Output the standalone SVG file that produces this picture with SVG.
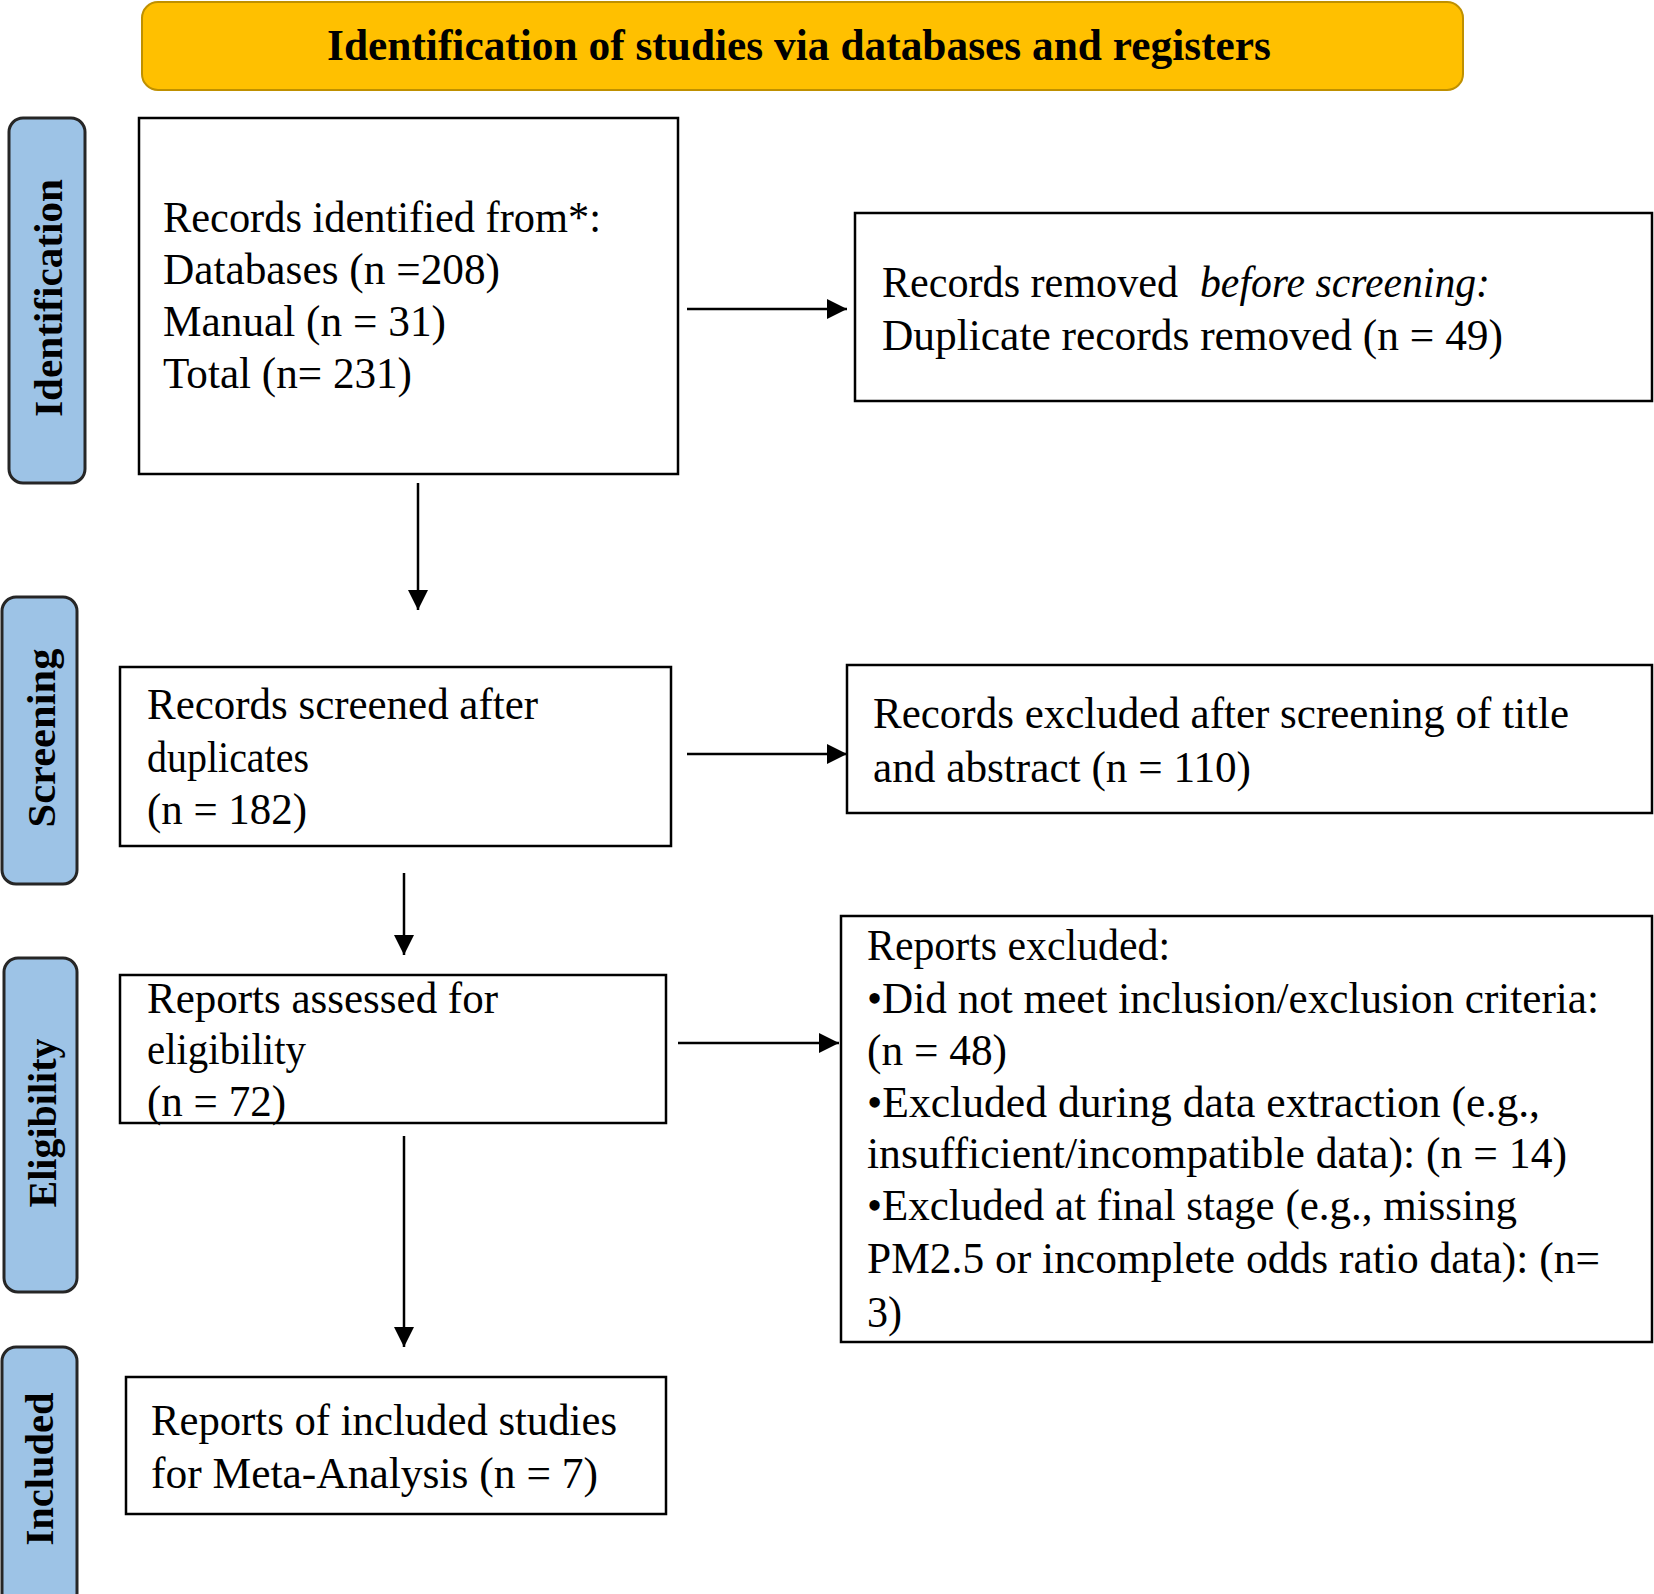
<svg xmlns="http://www.w3.org/2000/svg" width="1654" height="1594" viewBox="0 0 1654 1594">
<style>
.box{fill:#ffffff;stroke:#000000;stroke-width:2.5}
.side{fill:#9DC3E6;stroke:#262626;stroke-width:3}
.title{fill:#FFC000;stroke:#BF9000;stroke-width:2}
.t{font-family:"Liberation Serif","Times New Roman",serif;font-size:45px;fill:#000000}
.b{font-family:"Liberation Serif","Times New Roman",serif;font-size:45px;font-weight:bold;fill:#000000}
.s{font-family:"Liberation Serif","Times New Roman",serif;font-size:40px;font-weight:bold;fill:#000000;text-anchor:middle}
.i{font-style:italic}
.conn{stroke:#000000;stroke-width:2.5;fill:none}
</style>
<defs>
<marker id="ah" viewBox="0 0 20 20" refX="20" refY="10" markerWidth="20" markerHeight="20" markerUnits="userSpaceOnUse" orient="auto">
<path d="M0,0 L20,10 L0,20 Z" fill="#000000"/>
</marker>
</defs>
<rect width="1654" height="1594" fill="#ffffff"/>

<g id="header">
<rect class="title" x="142" y="2" width="1321" height="88" rx="16"/>
<text class="b" x="327" y="60" textLength="944" lengthAdjust="spacingAndGlyphs">Identification  of studies via databases and registers</text>
</g>

<g id="side-identification">
<rect class="side" x="9" y="118" width="76" height="365" rx="14"/>
<text class="s" transform="translate(62,298) rotate(-90)" x="0" y="0" textLength="238" lengthAdjust="spacingAndGlyphs">Identification</text>
</g>
<g id="side-screening">
<rect class="side" x="2" y="597" width="75" height="287" rx="14"/>
<text class="s" transform="translate(55,738) rotate(-90)" x="0" y="0" textLength="179" lengthAdjust="spacingAndGlyphs">Screening</text>
</g>
<g id="side-eligibility">
<rect class="side" x="4" y="958" width="73" height="334" rx="14"/>
<text class="s" transform="translate(56,1123) rotate(-90)" x="0" y="0" textLength="169" lengthAdjust="spacingAndGlyphs">Eligibility</text>
</g>
<g id="side-included">
<rect class="side" x="2" y="1347" width="75" height="260" rx="14"/>
<text class="s" transform="translate(53,1469) rotate(-90)" x="0" y="0" textLength="153" lengthAdjust="spacingAndGlyphs">Included</text>
</g>

<g id="records-identified">
<rect class="box" x="139" y="118" width="539" height="356"/>
<text class="t" x="163" y="232" textLength="438" lengthAdjust="spacingAndGlyphs">Records identified  from*:</text>
<text class="t" x="163" y="284" textLength="337" lengthAdjust="spacingAndGlyphs">Databases (n =208)</text>
<text class="t" x="163" y="336" textLength="283" lengthAdjust="spacingAndGlyphs">Manual  (n = 31)</text>
<text class="t" x="163" y="388" textLength="249" lengthAdjust="spacingAndGlyphs">Total  (n= 231)</text>
</g>

<g id="records-removed">
<rect class="box" x="855" y="213" width="797" height="188"/>
<text class="t" x="882" y="297" textLength="296" lengthAdjust="spacingAndGlyphs">Records removed</text>
<text class="t i" x="1200" y="297" textLength="290" lengthAdjust="spacingAndGlyphs">before screening:</text>
<text class="t" x="882" y="350" textLength="621" lengthAdjust="spacingAndGlyphs">Duplicate  records removed  (n = 49)</text>
</g>

<g id="records-screened">
<rect class="box" x="120" y="667" width="551" height="179"/>
<text class="t" x="147" y="719" textLength="391" lengthAdjust="spacingAndGlyphs">Records screened  after</text>
<text class="t" x="147" y="772" textLength="162" lengthAdjust="spacingAndGlyphs">duplicates</text>
<text class="t" x="147" y="824" textLength="160" lengthAdjust="spacingAndGlyphs">(n = 182)</text>
</g>

<g id="records-excluded">
<rect class="box" x="847" y="665" width="805" height="148"/>
<text class="t" x="873" y="728" textLength="696" lengthAdjust="spacingAndGlyphs">Records excluded  after  screening  of title</text>
<text class="t" x="873" y="782" textLength="378" lengthAdjust="spacingAndGlyphs">and abstract (n = 110)</text>
</g>

<g id="reports-assessed">
<rect class="box" x="120" y="975" width="546" height="148"/>
<text class="t" x="147" y="1013" textLength="351" lengthAdjust="spacingAndGlyphs">Reports  assessed for</text>
<text class="t" x="147" y="1064" textLength="159" lengthAdjust="spacingAndGlyphs">eligibility</text>
<text class="t" x="147" y="1116" textLength="139" lengthAdjust="spacingAndGlyphs">(n = 72)</text>
</g>

<g id="reports-excluded">
<rect class="box" x="841" y="916" width="811" height="426"/>
<text class="t" x="867" y="960" textLength="303" lengthAdjust="spacingAndGlyphs">Reports  excluded:</text>
<text class="t" x="867" y="1013" textLength="732" lengthAdjust="spacingAndGlyphs">•Did not meet  inclusion/exclusion  criteria:</text>
<text class="t" x="867" y="1065" textLength="140" lengthAdjust="spacingAndGlyphs">(n = 48)</text>
<text class="t" x="867" y="1117" textLength="673" lengthAdjust="spacingAndGlyphs">•Excluded  during  data extraction  (e.g.,</text>
<text class="t" x="867" y="1168" textLength="700" lengthAdjust="spacingAndGlyphs">insufficient/incompatible  data): (n = 14)</text>
<text class="t" x="867" y="1220" textLength="650" lengthAdjust="spacingAndGlyphs">•Excluded  at final  stage (e.g., missing</text>
<text class="t" x="867" y="1273" textLength="733" lengthAdjust="spacingAndGlyphs">PM2.5 or incomplete  odds ratio  data): (n=</text>
<text class="t" x="867" y="1327" textLength="35" lengthAdjust="spacingAndGlyphs">3)</text>
</g>

<g id="reports-included">
<rect class="box" x="126" y="1377" width="540" height="137"/>
<text class="t" x="151" y="1435" textLength="466" lengthAdjust="spacingAndGlyphs">Reports  of included  studies</text>
<text class="t" x="151" y="1488" textLength="447" lengthAdjust="spacingAndGlyphs">for  Meta-Analysis  (n = 7)</text>
</g>

<g id="connectors">
<line class="conn" x1="687" y1="309" x2="847" y2="309" marker-end="url(#ah)"/>
<line class="conn" x1="418" y1="483" x2="418" y2="610" marker-end="url(#ah)"/>
<line class="conn" x1="687" y1="754" x2="847" y2="754" marker-end="url(#ah)"/>
<line class="conn" x1="404" y1="873" x2="404" y2="955" marker-end="url(#ah)"/>
<line class="conn" x1="678" y1="1043" x2="839" y2="1043" marker-end="url(#ah)"/>
<line class="conn" x1="404" y1="1136" x2="404" y2="1347" marker-end="url(#ah)"/>
</g>
</svg>
